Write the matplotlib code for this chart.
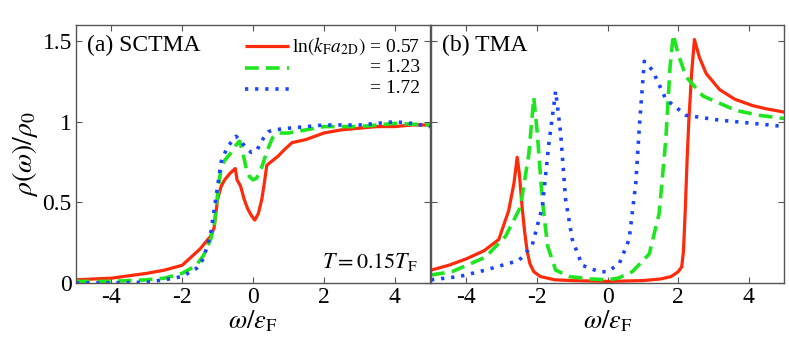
"""Density of states rho(w)/rho0: SCTMA vs TMA"""
import matplotlib
matplotlib.use('Agg')
import matplotlib.pyplot as plt

plt.rcParams.update({
    'font.family': ['Liberation Serif', 'DejaVu Serif'],
    'mathtext.fontset': 'stix',
    'font.size': 16,
    'axes.edgecolor': '#555555',
    'axes.linewidth': 1.0,
})

RED, GREEN, BLUE = '#ff2a0a', '#1ee61e', '#1a44ff'

# ---- (a) SCTMA ----
sc_red_x = [-5, -4, -3, -2.5, -2, -1.5, -1.2, -1.1, -1.0, -0.9, -0.8, -0.65, -0.5, -0.45,
            -0.35, -0.25, -0.15, -0.05, 0.05, 0.15, 0.25, 0.32, 0.39, 0.5, 0.7, 0.9, 1.1, 1.5,
            2.0, 2.5, 3, 3.5, 4, 4.5, 5]
sc_red_y = [0.02, 0.03, 0.06, 0.08, 0.11, 0.21, 0.29, 0.34, 0.52, 0.6, 0.64, 0.68, 0.71, 0.64,
            0.6, 0.52, 0.46, 0.42, 0.39, 0.43, 0.52, 0.62, 0.73, 0.75, 0.785, 0.83, 0.87, 0.89,
            0.93, 0.95, 0.96, 0.97, 0.97, 0.98, 0.98]

sc_grn_x = [-5, -4, -3, -2.5, -2, -1.6, -1.4, -1.2, -1.1, -1.0, -0.9, -0.8, -0.65, -0.5, -0.38,
            -0.3, -0.2, -0.1, 0, 0.1, 0.25, 0.4, 0.55, 0.7, 1, 1.5, 2, 3, 4, 5]
sc_grn_y = [0.01, 0.01, 0.02, 0.03, 0.06, 0.11, 0.17, 0.27, 0.35, 0.55, 0.72, 0.76, 0.8, 0.85, 0.88,
            0.82, 0.72, 0.66, 0.64, 0.65, 0.72, 0.82, 0.9, 0.93, 0.93, 0.95, 0.97, 0.97, 0.99, 0.98]

sc_blu_x = [-5, -4, -3, -2.5, -2, -1.6, -1.4, -1.2, -1.1, -1.0, -0.9, -0.75, -0.6, -0.48, -0.35,
            -0.2, -0.05, 0.1, 0.3, 0.45, 0.6, 1, 1.5, 2, 3, 4, 4.5, 5]
sc_blu_y = [0.0, 0.0, 0.005, 0.02, 0.04, 0.09, 0.15, 0.3, 0.45, 0.6, 0.75, 0.83, 0.88, 0.91, 0.88,
            0.84, 0.81, 0.82, 0.9, 0.94, 0.95, 0.96, 0.97, 0.98, 0.98, 1.0, 0.99, 0.97]

# ---- (b) TMA ----
tm_red_x = [-5, -4.5, -4, -3.5, -3.08, -2.8, -2.65, -2.56, -2.5, -2.42, -2.35, -2.28, -2.2, -2.09,
            -1.9, -1.5, -1, 0, 1, 1.5, 1.8, 2.0, 2.1, 2.15, 2.2, 2.25, 2.3, 2.38, 2.46, 2.6,
            2.79, 3.17, 3.6, 4.11, 4.5, 5]
tm_red_y = [0.08, 0.11, 0.15, 0.2, 0.27, 0.45, 0.62, 0.78, 0.68, 0.47, 0.32, 0.2, 0.12, 0.07,
            0.04, 0.02, 0.015, 0.01, 0.015, 0.025, 0.04, 0.07, 0.1, 0.2, 0.45, 0.75, 1.0, 1.3, 1.51,
            1.4, 1.3, 1.2, 1.14, 1.1, 1.08, 1.06]

tm_grn_x = [-5, -4.41, -3.46, -2.89, -2.47, -2.23, -2.09, -1.99, -1.85, -1.7, -1.47, -1.09, -0.5, 0,
            0.3, 0.7, 1.18, 1.46, 1.65, 1.77, 1.86, 2.0, 2.22, 2.7, 3.64, 4.3, 5]
tm_grn_y = [0.05, 0.07, 0.16, 0.29, 0.47, 0.8, 1.15, 0.93, 0.52, 0.23, 0.08, 0.04, 0.025, 0.02,
            0.03, 0.07, 0.18, 0.43, 0.89, 1.34, 1.54, 1.42, 1.28, 1.16, 1.07, 1.04, 1.02]

tm_blu_x = [-5, -4.2, -3.46, -2.51, -2.14, -1.85, -1.66, -1.47, -1.33, -1.19, -1.0, -0.72, -0.24, 0,
            0.33, 0.61, 0.8, 0.9, 1.04, 1.27, 1.65, 2.22, 3.17, 4.59, 5]
tm_blu_y = [0.02, 0.04, 0.08, 0.14, 0.23, 0.47, 0.87, 1.19, 0.93, 0.52, 0.27, 0.11, 0.07, 0.07,
            0.12, 0.27, 0.62, 0.97, 1.375, 1.32, 1.14, 1.04, 1.01, 0.98, 0.97]

legend_vals = ['0.57', '1.23', '1.72']

fig = plt.figure(figsize=(7.89, 3.38), dpi=100)
axa = fig.add_axes([0.0963, 0.1627, 0.4487, 0.7633])
axb = fig.add_axes([0.5463, 0.1627, 0.4475, 0.7633])

styles = [dict(color=RED, lw=2.3, ls='-'),
          dict(color=GREEN, lw=2.6, ls=(0, (3.8, 2.0))),
          dict(color=BLUE, lw=2.6, ls=(0, (0.9, 1.9)))]

for ax, sets in [(axa, [(sc_red_x, sc_red_y), (sc_grn_x, sc_grn_y), (sc_blu_x, sc_blu_y)]),
                 (axb, [(tm_red_x, tm_red_y), (tm_grn_x, tm_grn_y), (tm_blu_x, tm_blu_y)])]:
    for (xs, ys), st in zip(sets, styles):
        ax.plot(xs, ys, **st)
    ax.set_xlim(-5, 5)
    ax.set_ylim(0, 1.6)
    ax.set_xticks([-4, -2, 0, 2, 4])
    ax.set_xticklabels(['-4', '-2', '0', '2', '4'])
    ax.set_yticks([0, 0.5, 1, 1.5])
    ax.tick_params(direction='in', top=True, right=True, length=4, width=0.8,
                   color='#555555', labelsize=17, pad=3)
    ax.set_xlabel(r'$\omega/\varepsilon_{\rm F}$', fontsize=19, labelpad=0)

axa.set_yticklabels(['0', '0.5', '1', '1.5'])
axb.set_yticklabels([])
axa.set_ylabel(r'$\rho(\omega)/\rho_0$', fontsize=20, labelpad=2)

axa.text(0.03, 0.92, '(a) SCTMA', transform=axa.transAxes, fontsize=17, va='center', ha='left')
axb.text(0.03, 0.92, '(b) TMA', transform=axb.transAxes, fontsize=17, va='center', ha='left')
axa.text(0.965, 0.08, r'$T = 0.15T_{\rm F}$', transform=axa.transAxes, fontsize=16,
         va='center', ha='right')

# hand-made legend, right-aligned labels
rows_y = [0.919, 0.834, 0.752]
for i, (yy, st) in enumerate(zip(rows_y, styles)):
    axa.plot([0.477, 0.603], [yy, yy], transform=axa.transAxes,
             solid_capstyle='butt', **st)
    lab = (r'ln$(k_{\rm F}a_{\rm 2D})$ = ' if i == 0 else '= ') + legend_vals[i]
    axa.text(0.972, yy, lab, transform=axa.transAxes, fontsize=14, va='center', ha='right')

plt.savefig('out.png', dpi=100, facecolor='white')
plt.close()
